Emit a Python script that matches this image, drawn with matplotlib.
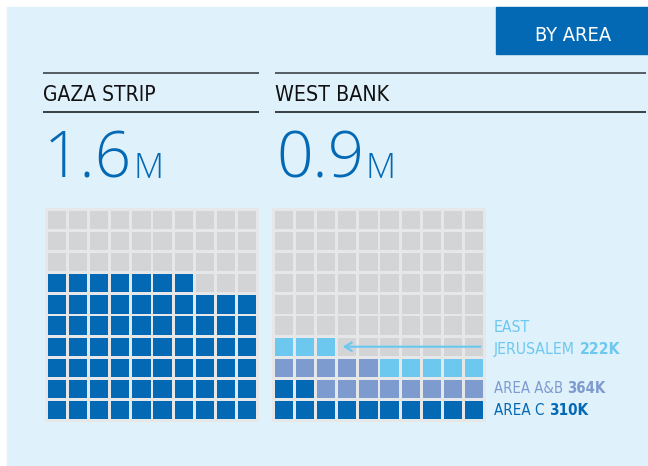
import matplotlib
matplotlib.use("Agg")
import matplotlib.pyplot as plt
from matplotlib.patches import Rectangle
from matplotlib import font_manager as fm

# --- dados ---
regioes = ["GAZA STRIP", "WEST BANK"]
totais = ["1.6", "0.9"]
gaza_celulas = [67]
gaza_cores = ["#0469b4"]
wb_rotulos = ["AREA C", "AREA A&B", "EAST\nJERUSALEM"]
wb_valores = ["310K", "364K", "222K"]
wb_celulas = [12, 13, 8]
wb_cores = ["#0469b4", "#7e9bd0", "#6dc8f0"]


def achar(fam, **kw):
    try:
        return fm.findfont(fm.FontProperties(family=fam, **kw), fallback_to_default=False)
    except Exception:
        return ""


# fonte estreita, se houver; senão Roboto
COND, ESTICA = "Roboto", "normal"
if "Narrow" in achar("Liberation Sans Narrow"):
    COND = "Liberation Sans Narrow"
elif "Condensed" in achar("DejaVu Sans", stretch="condensed"):
    COND, ESTICA = "DejaVu Sans", "condensed"

# fonte leve para os números grandes
LEVE, PESO = "Lato", "normal"
for fam in ["Roboto", "Open Sans", "Lato"]:
    arq = achar(fam, weight="light")
    if "Light" in arq and "Thin" not in arq and "Hairline" not in arq:
        LEVE, PESO = fam, "light"
        break

AZUL = "#0469b4"
W, H = 648, 466

fig = plt.figure(figsize=(W / 100, H / 100), dpi=100, facecolor="white")
ax = fig.add_axes([0, 0, 1, 1])
ax.set_xlim(0, W)
ax.set_ylim(H, 0)
ax.axis("off")
rend = fig.canvas.get_renderer()


def largura(t):
    return t.get_window_extent(rend).width


def fim_x(t):
    bb = t.get_window_extent(rend)
    return ax.transData.inverted().transform((bb.x1, bb.y0))[0]


def texto(x, y, s, alvo, tam=16, **kw):
    # ajusta o corpo para que a largura bata com a do original
    t = ax.text(x, y, s, family=[COND, "DejaVu Sans"], fontstretch=ESTICA,
                fontsize=tam, va="baseline", **kw)
    t.set_fontsize(min(tam, tam * alvo / largura(t)))
    return t


# painel de fundo e caixa do título
ax.add_patch(Rectangle((7, 7), W - 7, H - 7, color="#dff1fb", zorder=0))
ax.add_patch(Rectangle((496, 7), W - 496, 47, color=AZUL, zorder=1))
texto(573, 41, "BY AREA", 76, tam=15.5, color="white", ha="center")

# cabeçalhos das colunas
colunas = [(43, 259), (275, 646)]
alvos = [112, 114]
for (x0, x1), nome, total, alvo in zip(colunas, regioes, totais, alvos):
    ax.plot([x0, x1], [73, 73], color="#555c63", lw=1.4, solid_capstyle="butt")
    ax.plot([x0, x1], [112, 112], color="#3a3f44", lw=1.4, solid_capstyle="butt")
    texto(x0, 101, nome, alvo, tam=17.5, color="#111111")
    t = ax.text(x0 + 1, 178, total, color=AZUL, fontsize=46, family=LEVE,
                fontweight=PESO, va="baseline")
    ax.text(fim_x(t) + 1, 178, "M", color=AZUL, fontsize=25, family=LEVE,
            fontweight=PESO, va="baseline")


def waffle(left, cores, contagens):
    wa = fig.add_axes([left / W, 1 - 422 / H, 214 / W, 214 / H])
    wa.set_xlim(-0.06, 10.06)
    wa.set_ylim(-0.06, 10.06)
    wa.set_facecolor("#e6e7e8")
    for s in wa.spines.values():
        s.set_visible(False)
    wa.set_xticks([])
    wa.set_yticks([])
    preench = []
    for cor, n in zip(cores, contagens):
        preench += [cor] * n
    preench += ["#d3d4d6"] * (100 - len(preench))
    for i, cor in enumerate(preench):
        lin, col = divmod(i, 10)
        wa.add_patch(Rectangle((col + 0.07, lin + 0.07), 0.86, 0.86,
                               facecolor=cor, edgecolor="none"))
    return wa


waffle(45, gaza_cores, gaza_celulas)
wa = waffle(272, wb_cores, wb_celulas)

# seta apontando para Jerusalém Oriental
n_tot = sum(wb_celulas)
lin, col = divmod(n_tot - 1, 10)
wa.annotate("", xy=(col + 1.15, lin + 0.5), xytext=(9.93, lin + 0.5),
            arrowprops=dict(arrowstyle="->,head_length=0.5,head_width=0.3",
                            color=wb_cores[2], lw=1.6),
            annotation_clip=False)

# rótulos da Cisjordânia
baselines = [415, 393, 354]
larg_rot = [94, 112, 126]
for rot, val, cor, yb, alvo in zip(wb_rotulos, wb_valores, wb_cores, baselines, larg_rot):
    linhas = rot.split("\n")
    a = texto(494, yb, linhas[-1] + " ", 300, tam=13.5, color=cor)
    b = ax.text(fim_x(a), yb, val, color=cor, fontsize=13.5, family=[COND, "DejaVu Sans"],
                fontstretch=ESTICA, fontweight="bold", va="baseline")
    tam = min(13.5, 13.5 * alvo / (largura(a) + largura(b)))
    a.set_fontsize(tam)
    b.set_fontsize(tam)
    b.set_x(fim_x(a))
    for k, l in enumerate(linhas[:-1]):
        ax.text(494, yb - 22 * (len(linhas) - 1 - k), l, color=cor, fontsize=tam,
                family=[COND, "DejaVu Sans"], fontstretch=ESTICA, va="baseline")

fig.savefig("out.png", dpi=100, facecolor="white")
